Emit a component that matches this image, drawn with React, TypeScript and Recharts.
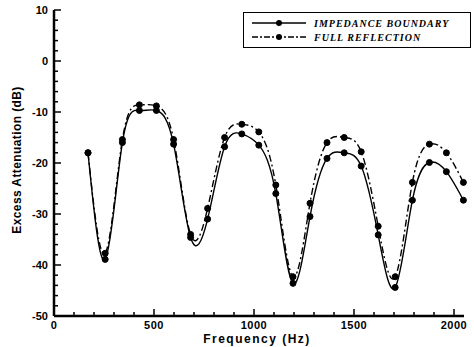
import React from 'react';
import { LineChart, Line, XAxis, YAxis } from 'recharts';

// frequency (Hz) at each computed point
const freqs = [170, 256, 342, 427, 512, 598, 683, 768, 853, 939, 1024, 1109, 1195, 1280, 1365, 1451, 1536, 1621, 1706, 1792, 1877, 1962, 2047];

// excess attenuation (dB)
const impedance = [-18, -38.9, -16.0, -9.7, -9.7, -16.3, -34.6, -31.0, -16.8, -14.3, -16.5, -26.0, -43.6, -30.5, -19.1, -18.0, -20.6, -34.1, -44.4, -27.3, -19.9, -21.7, -27.3];
const fullReflection = [-18, -37.7, -15.4, -8.6, -8.8, -15.4, -34.0, -28.9, -15.0, -12.4, -13.9, -24.3, -42.3, -27.9, -16.0, -15.0, -17.8, -32.4, -42.3, -23.8, -16.3, -18.0, -23.8];

const xTicks = [0, 100, 200, 300, 400, 500, 600, 700, 800, 900, 1000, 1100, 1200, 1300, 1400, 1500, 1600, 1700, 1800, 1900, 2000];
const yTicks = [-50, -48, -46, -44, -42, -40, -38, -36, -34, -32, -30, -28, -26, -24, -22, -20, -18, -16, -14, -12, -10, -8, -6, -4, -2, 0, 2, 4, 6, 8, 10];

const data = freqs.map((f, i) => ({ f, imp: impedance[i], full: fullReflection[i] }));

const FONT = '"Liberation Sans", Arial, sans-serif';
const DASHDOT = '7 3 2 3';

const XTick = (props: any) => {
  const { x, y, payload } = props;
  const v = payload.value;
  const major = v % 500 === 0;
  const axisY = y - 6;
  return (
    <g>
      <line x1={x} x2={x} y1={axisY} y2={axisY - (major ? 7 : 4)} stroke="#000" strokeWidth={1.5} />
      {major && (
        <text x={x} y={axisY + 13} textAnchor="middle" fontSize={11} fontWeight="bold" fontFamily={FONT} letterSpacing={0.5}>
          {v}
        </text>
      )}
    </g>
  );
};

const YTick = (props: any) => {
  const { x, y, payload } = props;
  const v = payload.value;
  const major = v % 10 === 0;
  const axisX = x + 6;
  return (
    <g>
      <line x1={axisX} x2={axisX + (major ? 7 : 4)} y1={y} y2={y} stroke="#000" strokeWidth={1.5} />
      {major && (
        <text x={x} y={y + 4} textAnchor="end" fontSize={11} fontWeight="bold" fontFamily={FONT}>
          {v}
        </text>
      )}
    </g>
  );
};

const YTitle = () => (
  <text x={21} y={160} transform="rotate(-90 21 160)" textAnchor="middle" fontSize={12} fontWeight="bold" fontFamily={FONT} letterSpacing={0.4}>
    Excess Attenuation (dB)
  </text>
);

const XTitle = () => (
  <text x={257} y={343} textAnchor="middle" fontSize={12} fontWeight="bold" fontFamily={FONT} letterSpacing={1.5}>
    Frequency (Hz)
  </text>
);

const LegendRow = ({ dash, label }: { dash?: string; label: string }) => (
  <div style={{ display: 'flex', alignItems: 'center', height: 14 }}>
    <svg width={64} height={10}>
      <line x1={2} x2={56} y1={5} y2={5} stroke="#000" strokeWidth={1.3} strokeDasharray={dash} />
      <circle cx={29} cy={5} r={3} fill="#000" />
    </svg>
    <span
      style={{
        fontFamily: '"Liberation Serif", "Times New Roman", serif',
        fontWeight: 'bold',
        fontStyle: 'italic',
        fontSize: 10,
        letterSpacing: 1,
        whiteSpace: 'nowrap',
      }}
    >
      {label}
    </span>
  </div>
);

export default function App() {
  return (
    <div style={{ position: 'absolute', left: 0, top: 0, width: 474, height: 347, background: '#fff' }}>
      <LineChart width={474} height={347} data={data} margin={{ top: 10, right: 10, left: 0, bottom: 0 }}>
        <XAxis
          type="number"
          dataKey="f"
          domain={[0, 2050]}
          ticks={xTicks}
          interval={0}
          tickSize={0}
          tickMargin={6}
          tickLine={false}
          tick={<XTick />}
          axisLine={{ stroke: '#000', strokeWidth: 2.5 }}
          height={31}
          label={<XTitle />}
        />
        <YAxis
          type="number"
          domain={[-50, 10]}
          ticks={yTicks}
          interval={0}
          tickSize={0}
          tickMargin={6}
          tickLine={false}
          tick={<YTick />}
          axisLine={{ stroke: '#000', strokeWidth: 2.5 }}
          width={54}
          label={<YTitle />}
        />
        <Line
          type="natural"
          dataKey="imp"
          stroke="#000"
          strokeWidth={1.4}
          dot={{ r: 3, fill: '#000', stroke: '#000', strokeWidth: 1 }}
          isAnimationActive={false}
        />
        <Line
          type="natural"
          dataKey="full"
          stroke="#000"
          strokeWidth={1.4}
          strokeDasharray={DASHDOT}
          dot={{ r: 3, fill: '#000', stroke: '#000', strokeWidth: 1, strokeDasharray: '' }}
          isAnimationActive={false}
        />
      </LineChart>
      <div
        style={{
          position: 'absolute',
          left: 243,
          top: 12,
          width: 228,
          height: 36,
          border: '1px solid #000',
          boxSizing: 'border-box',
          paddingLeft: 6,
          paddingTop: 3,
        }}
      >
        <LegendRow label="IMPEDANCE BOUNDARY" />
        <LegendRow dash="6 2 2 2" label="FULL REFLECTION" />
      </div>
    </div>
  );
}
